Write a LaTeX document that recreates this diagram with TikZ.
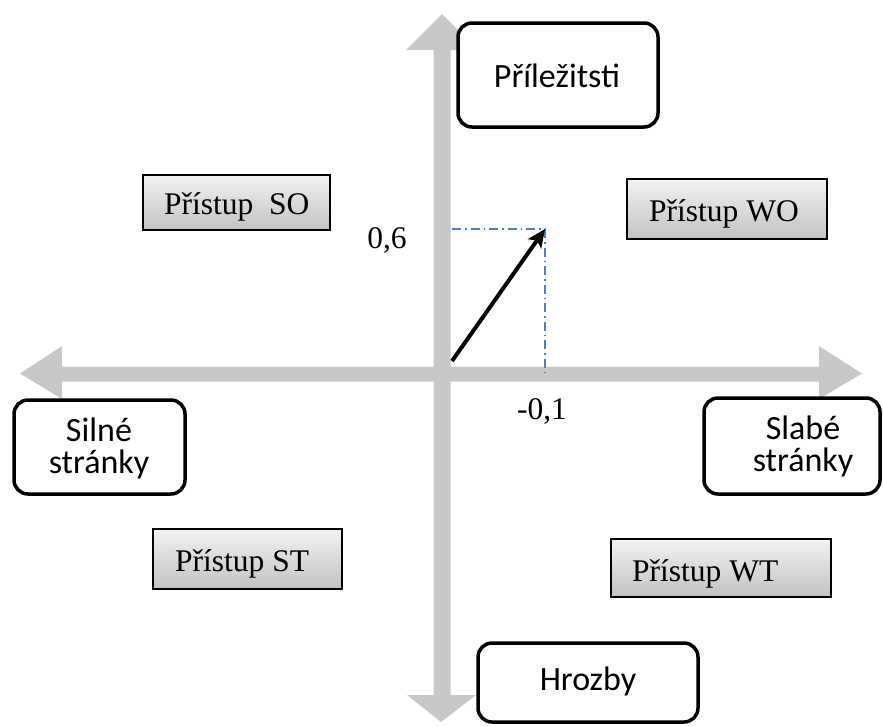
\documentclass[tikz,border=0pt]{standalone}
\usepackage{fontspec}
\setmainfont{Liberation Serif}
\newfontfamily\calib{Carlito}
\usetikzlibrary{arrows.meta}
\definecolor{axisgray}{RGB}{200,200,200}
\definecolor{dashblue}{RGB}{79,129,189}
\tikzset{
  roundbox/.style={draw=black, line width=3.5pt, rounded corners=14pt, fill=white},
  sanstext/.style={font=\calib\fontsize{34}{32}\selectfont, align=center, inner sep=0pt},
  gradbox/.style={draw=black, line width=1.6pt, top color=gray!10, bottom color=gray!48},
  seriftext/.style={font=\fontsize{31.5}{31.5}\selectfont, inner sep=0pt, anchor=base west},
  numtext/.style={font=\fontsize{31.5}{31.5}\selectfont, inner sep=0pt},
  guide/.style={draw=dashblue, line width=1.2pt, dash pattern=on 9pt off 4pt on 1.5pt off 4pt},
  vec/.style={draw=black, line width=4pt, -{Stealth[length=18pt,width=16pt,inset=4pt]}}
}
\begin{document}
\begin{tikzpicture}[x=1pt,y=-1pt]
\useasboundingbox (0,0) rectangle (883,726);
% axes
\fill[axisgray] (433.5,50) -- (406,50) -- (442,14) -- (478,50) -- (450.5,50) -- (450.5,695) -- (476,695) -- (441,722) -- (407,695) -- (433.5,695) -- cycle;
\fill[axisgray] (62,366.5) -- (62,346) -- (20,373.5) -- (62,399) -- (62,381.5) -- (819,381.5) -- (819,399) -- (862,373.5) -- (819,346) -- (819,366.5) -- cycle;
% rounded boxes
\draw[roundbox] (458,23) rectangle (658,127);
\node[sanstext] (op) at (557,76) {Příležitsti};
\draw[roundbox] (14,400) rectangle (185,494);
\node[sanstext] (sil) at (99,448) {Silné\\stránky};
\draw[roundbox] (704,398) rectangle (880,494);
\node[sanstext] (sla) at (803,446) {Slabé\\stránky};
\draw[roundbox] (478,643) rectangle (698,722);
\node[sanstext] (hr) at (588,681) {Hrozby};
% gradient boxes
\draw[gradbox] (143,175) rectangle (330,230);
\node[seriftext] (so) at (164,214) {Přístup\ \ SO};
\draw[gradbox] (627,179) rectangle (827,239);
\node[seriftext] (wo) at (649,221) {Přístup WO};
\draw[gradbox] (153,529) rectangle (342,589);
\node[seriftext] (st) at (175,571) {Přístup ST};
\draw[gradbox] (611,539) rectangle (831,597);
\node[seriftext] (wt) at (632,581) {Přístup WT};
% vector
\coordinate (o) at (452,361);
\coordinate (p) at (545,229);
\coordinate (py) at (452,229);
\coordinate (px) at (545,373);
\draw[guide] (py) -- (p);
\draw[guide] (p) -- (px);
\draw[vec] (o) -- (p);
\node[numtext] (n06) at (387,240) {0,6};
\node[numtext] (n01) at (542,411) {-0,1};
\end{tikzpicture}
\end{document}
